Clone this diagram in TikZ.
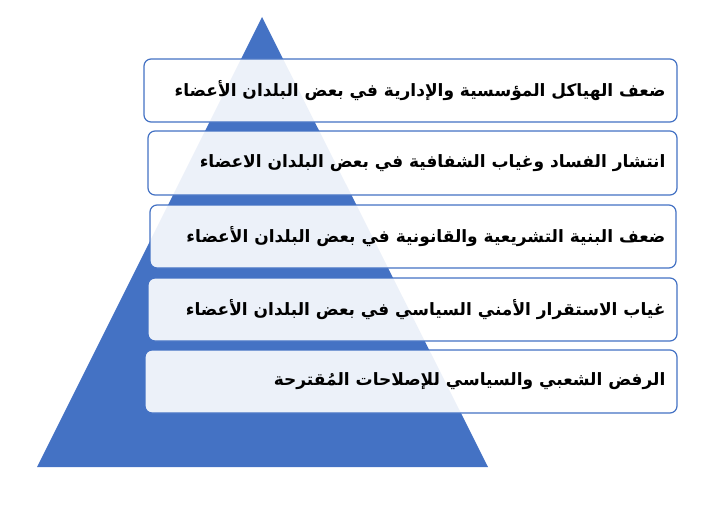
\documentclass[tikz,border=0pt]{standalone}
\usepackage{fontspec}
\newfontfamily\arabicfont[Script=Arabic]{DejaVu Sans}
\TeXXeTstate=1
\definecolor{pblue}{HTML}{4472C4}
\tikzset{
  bar/.style={draw=pblue, line width=1.2pt, rounded corners=7pt, fill=white, fill opacity=0.9, text opacity=1},
  lbl/.style={anchor=east, font=\arabicfont\bfseries\fontsize{17}{20}\selectfont, text=black}
}
\begin{document}
\begin{tikzpicture}[x=1pt,y=-1pt]
\useasboundingbox (0,0) rectangle (715,511);
\fill[pblue] (37,467) coordinate (bl) -- (262,17) coordinate (ap) -- (488,467) coordinate (br) -- cycle;
\path[bar] (144,59) rectangle (677,122);
\path[bar] (148,131) rectangle (677,195);
\path[bar] (150,205) rectangle (676,268);
\path[bar] (148,278) rectangle (677,341);
\path[bar] (145,350) rectangle (677,413);
\node[lbl] (t1) at (669,90.5) {\beginR ضعف الهياكل المؤسسية والإدارية في بعض البلدان الأعضاء\endR};
\node[lbl] (t2) at (669,163) {\beginR انتشار الفساد وغياب الشفافية في بعض البلدان الاعضاء\endR};
\node[lbl] (t3) at (669,236.5) {\beginR ضعف البنية التشريعية والقانونية في بعض البلدان الأعضاء\endR};
\node[lbl] (t4) at (669,309.5) {\beginR غياب الاستقرار الأمني السياسي في بعض البلدان الأعضاء\endR};
\node[lbl] (t5) at (669,381.5) {\beginR الرفض الشعبي والسياسي للإصلاحات المُقترحة\endR};
\end{tikzpicture}
\end{document}
